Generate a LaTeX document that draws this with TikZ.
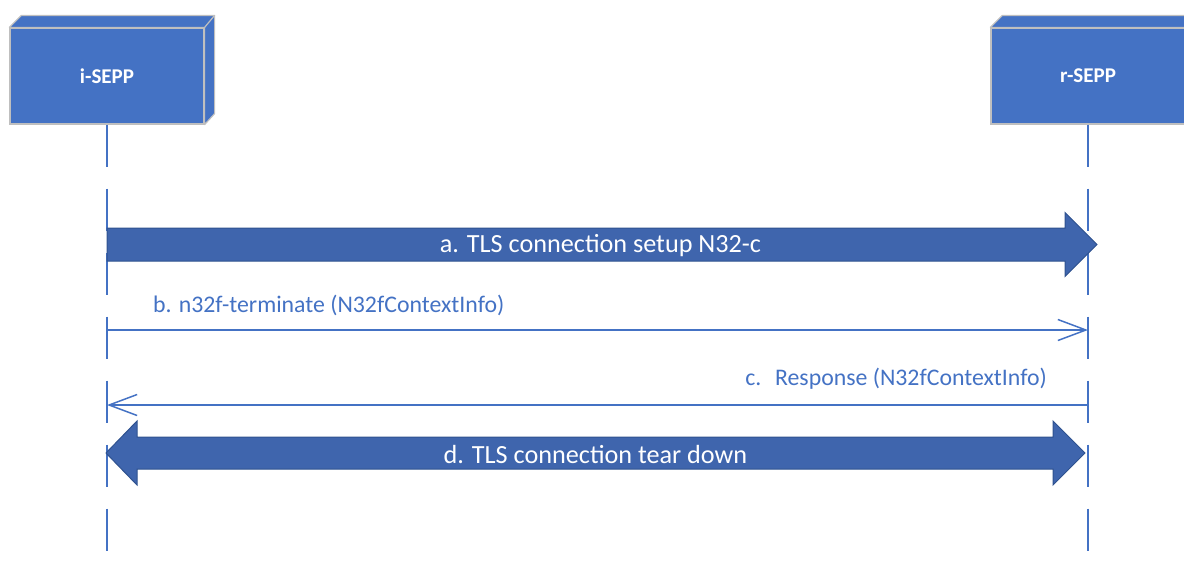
\documentclass[tikz,border=0pt]{standalone}
\usepackage{fontspec}
\setmainfont{Carlito}
\usetikzlibrary{positioning, arrows.meta, calc}
\definecolor{seppblue}{HTML}{4472C4}
\definecolor{barblue}{HTML}{3F65AD}
\definecolor{barline}{HTML}{2F528F}
\definecolor{boxline}{HTML}{BFBFBF}
\tikzset{
  entity/.style={fill=seppblue, draw=boxline, line width=1.2pt, minimum width=194pt, minimum height=96pt, inner sep=0pt, text=white, font=\fontsize{21}{25}\selectfont\bfseries},
  cubeside/.style={fill=seppblue, draw=boxline, line width=1.2pt, line join=round},
  lifeline/.style={draw=seppblue, line width=2.2pt, dash pattern=on 42pt off 22pt},
  msg/.style={draw=seppblue, line width=1.5pt, -{Straight Barb[length=28pt, width=21pt, line width=1.5pt]}},
  msglabel/.style={text=seppblue, inner sep=0pt, font=\fontsize{23.8}{28}\selectfont},
  bar/.style={fill=barblue, draw=barline, line width=1pt, line join=miter},
  barlabel/.style={text=white, inner sep=0pt, font=\fontsize{26.2}{30}\selectfont},
}

\begin{document}
\begin{tikzpicture}[x=1pt, y=-1pt]
  \clip (0,0) rectangle (1184,566);
  % the two peers
  \node[entity] (isepp) at (107,76) {i-SEPP};
  \node[entity] (rsepp) at (1088,76) {r-SEPP};
  \foreach \n in {isepp, rsepp} {
    \filldraw[cubeside] (\n.north west) -- ++(12,-12) -| ($(\n.south east)+(10,-11)$) -- (\n.south east) -- (\n.north east) -- cycle;
    \draw[cubeside, fill=none] (\n.north east) -- ++(10,-12);
  }
  % lifelines
  \coordinate (iend) at (107,551);
  \coordinate (rend) at (1088,551);
  \draw[lifeline] (isepp.south) -- (iend);
  \draw[lifeline] (rsepp.south) -- (rend);
  % message rows on both lifelines
  \foreach \m/\y in {a/244.5, b/330, c/405, d/453} {
    \coordinate (\m i) at (isepp.south |- 0,\y);
    \coordinate (\m r) at (rsepp.south |- 0,\y);
  }
  % a. setup
  \filldraw[bar] ($(ai)+(0,-16.5)$) -- ($(ar)+(-23,-16.5)$) -- ($(ar)+(-23,-32)$) -- ($(ar)+(9,0)$)
    -- ($(ar)+(-23,32)$) -- ($(ar)+(-23,16.5)$) -- ($(ai)+(0,16.5)$) -- cycle;
  \node[barlabel] (la) at ($(ai)!0.5!(ar)+(3,1.5)$) {a. TLS connection setup N32-c};
  % b. / c.
  \draw[msg] (bi) -- (br);
  \node[msglabel, anchor=west] (lb) at ($(bi)+(46,-25)$) {b. n32f-terminate (N32fContextInfo)};
  \draw[msg] (cr) -- (ci);
  \node[msglabel, anchor=east] (lc) at ($(cr)+(-41,-26)$) {c.\; Response (N32fContextInfo)};
  % d. tear down
  \filldraw[bar] ($(di)+(-1,0)$) -- ($(di)+(30,-32)$) -- ($(di)+(30,-16)$) -- ($(dr)+(-35,-16)$)
    -- ($(dr)+(-35,-32)$) -- ($(dr)+(-3,0)$) -- ($(dr)+(-35,32)$) -- ($(dr)+(-35,16)$)
    -- ($(di)+(30,16)$) -- ($(di)+(30,32)$) -- cycle;
  \node[barlabel] (ld) at ($(di)!0.5!(dr)+(-2,1)$) {d. TLS connection tear down};
\end{tikzpicture}
\end{document}
